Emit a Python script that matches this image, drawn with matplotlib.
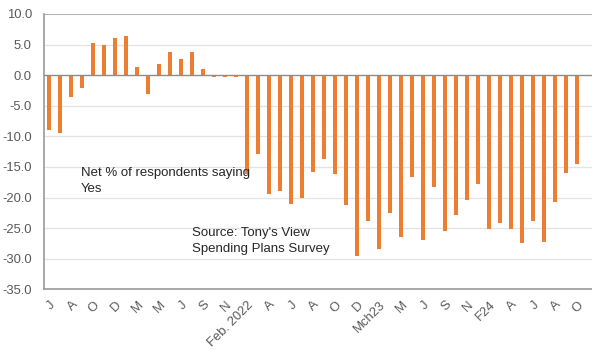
import matplotlib
matplotlib.use("Agg")
import matplotlib.pyplot as plt

# Net % of respondents saying Yes, one value per survey
values = [
    -9.0, -9.4, -3.6, -2.1, 5.2, 4.9, 6.1, 6.4, 1.4, -3.0,
    1.9, 3.8, 2.6, 3.8, 1.0, -0.3, -0.3, -0.3, -16.1, -12.9,
    -19.4, -19.0, -21.1, -20.0, -15.8, -13.7, -16.1, -21.2, -29.6, -23.9,
    -28.4, -22.5, -26.4, -16.7, -26.9, -18.2, -25.5, -22.8, -20.4, -17.8,
    -25.1, -24.1, -25.1, -27.5, -23.8, -27.2, -20.8, -16.0, -14.5,
]

# Labels shown on every second survey
tick_labels = [
    "J", "A", "O", "D", "M", "M", "J", "S", "N", "Feb. 2022",
    "A", "J", "A", "O", "D", "Mch23", "M", "J", "S", "N",
    "F24", "A", "J", "A", "O",
]

y_ticks = [10, 5, 0, -5, -10, -15, -20, -25, -30, -35]

plt.rcParams["font.family"] = ["Liberation Sans", "DejaVu Sans"]

fig = plt.figure(figsize=(5.92, 3.5), dpi=100)
ax = fig.add_axes([0.0748, 0.1734, 0.9252, 0.7866])

x = list(range(len(values)))
ax.bar(x, values, width=0.36, color="#ED7D31", zorder=3)

ax.set_ylim(-35, 10)
ax.set_xlim(-0.45, 49.35)
ax.set_yticks(y_ticks)
ax.set_yticklabels([f"{v:.1f}" for v in y_ticks])

ax.set_xticks(x[::2])
ax.set_xticklabels(tick_labels, rotation=45, ha="right", rotation_mode="anchor")

ax.tick_params(axis="both", length=0, labelsize=9.4, labelcolor="#595959")
ax.tick_params(axis="x", pad=7)
ax.tick_params(axis="y", pad=9)

# Horizontal gridlines
for v in y_ticks:
    if v in (10, 0, -35):
        continue
    ax.axhline(v, color="#e3e3e3", linewidth=0.9, zorder=1)
ax.axhline(0, color="#8c8c8c", linewidth=1.0, zorder=4)
ax.axhline(10, color="#a6a6a6", linewidth=1.2, zorder=2)

for side in ("top", "right"):
    ax.spines[side].set_visible(False)
ax.spines["left"].set_color("#9a9a9a")
ax.spines["bottom"].set_color("#9a9a9a")
ax.spines["left"].set_linewidth(1.2)
ax.spines["bottom"].set_linewidth(1.2)

ax.text(2.85, -15.0, "Net % of respondents saying\nYes", fontsize=9.5,
        color="#262626", va="top", ha="left", linespacing=1.45)
ax.text(12.95, -24.8, "Source: Tony's View\nSpending Plans Survey", fontsize=9.5,
        color="#262626", va="top", ha="left", linespacing=1.45)

fig.savefig("out.png", dpi=100)
